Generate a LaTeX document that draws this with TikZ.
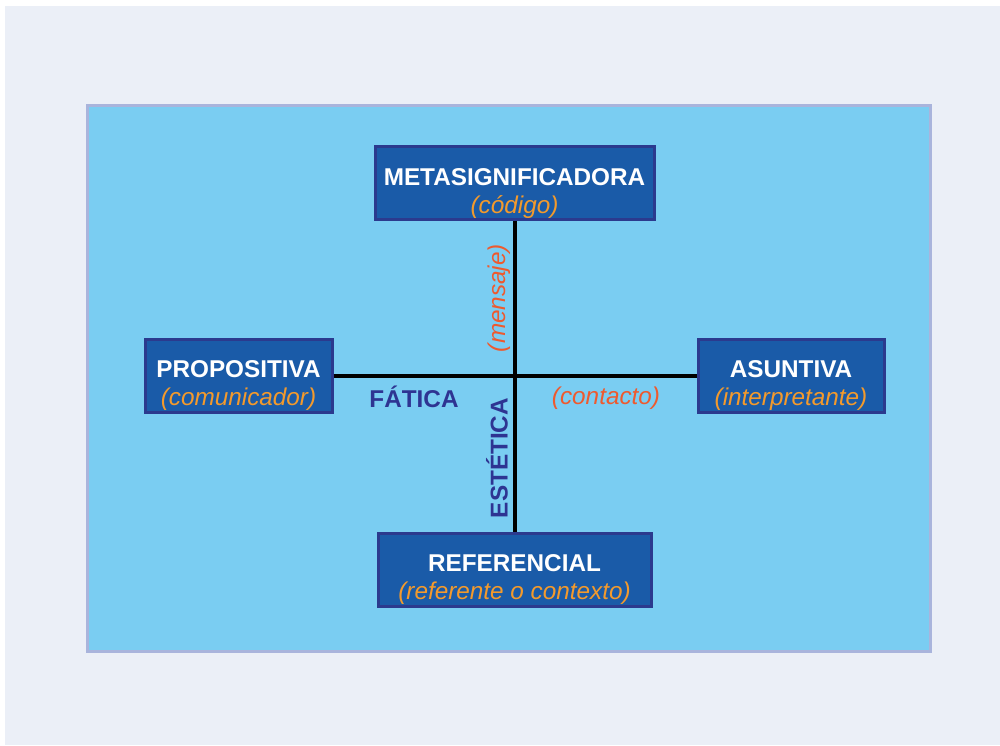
\documentclass[tikz,border=0pt]{standalone}
\usepackage{fontspec}
\setmainfont{Liberation Sans}
\usepackage{tikz}
\usetikzlibrary{positioning}
\definecolor{pagebg}{HTML}{EBEFF7}
\definecolor{panelbg}{HTML}{7ACDF2}
\definecolor{panelrim}{HTML}{A9B4DC}
\definecolor{boxfill}{HTML}{1A5BA8}
\definecolor{boxrim}{HTML}{2B3A8E}
\definecolor{rolecol}{HTML}{F39A2C}
\definecolor{redcol}{HTML}{EE5A2E}
\definecolor{darkblue}{HTML}{2E3492}
\newcommand{\lift}{\rule{0pt}{19pt}}

\begin{document}
\begin{tikzpicture}[x=0.5pt, y=-0.5pt,
      every node/.style={font=\fontsize{12.15}{14}\selectfont},
      function/.style={draw=boxrim, line width=1.5pt, fill=boxfill, text=white, align=center, inner sep=0pt, minimum height=36.5pt, font=\fontsize{12.15}{14}\selectfont\bfseries},
      axislabel/.style={text=darkblue, font=\fontsize{12.15}{14}\selectfont\bfseries, inner sep=0pt},
      channel/.style={text=redcol, font=\fontsize{12.15}{14}\selectfont\itshape, inner sep=0pt}]
      \useasboundingbox (0,0) rectangle (1000,745);
      \fill[pagebg] (5,6) rectangle (1000,745);
      \draw[panelrim, fill=panelbg, line width=1.5pt] (87,105) rectangle (930,651);
      \node (meta) at (514.5,183) [function, minimum width=139.5pt] {\lift METASIGNIFICADORA\\{\color{rolecol}\mdseries\itshape (código)}};
      \node (prop) at (238.5,375.5) [function, minimum width=93.5pt] {\lift PROPOSITIVA\\{\color{rolecol}\mdseries\itshape (comunicador)}};
      \node (asun) at (791,375.5) [function, minimum width=93pt] {\lift ASUNTIVA\\{\color{rolecol}\mdseries\itshape (interpretante)}};
      \node (ref) at (514.5,569.5) [function, minimum width=136.5pt] {\lift REFERENCIAL\\{\color{rolecol}\mdseries\itshape (referente o contexto)}};
      \draw[line width=2pt] (meta) -- (ref);
      \draw[line width=2pt] (prop) -- (asun);
      \node[channel, rotate=90] (mensaje) at (499,298) {(mensaje)};
      \node[axislabel] (fatica) at (414,397) {FÁTICA};
      \node[channel] (contacto) at (606,398) {(contacto)};
      \node[axislabel, rotate=90] (estetica) at (497,458) {ESTÉTICA};
  \end{tikzpicture}
\end{document}
